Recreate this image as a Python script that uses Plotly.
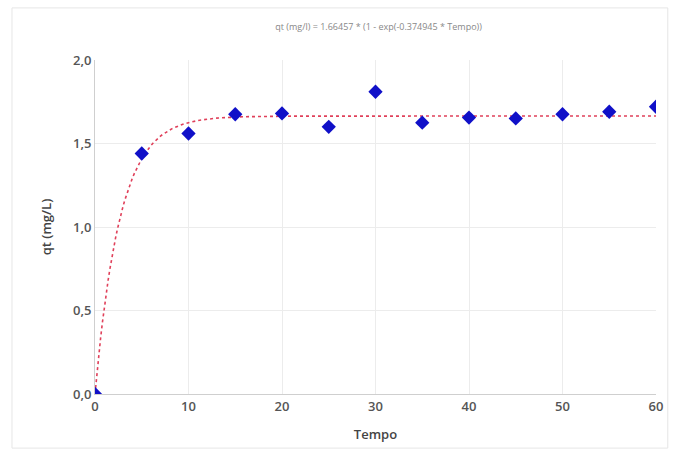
import numpy as np
import plotly.graph_objects as go

tempo = [0, 5, 10, 15, 20, 25, 30, 35, 40, 45, 50, 55, 60]
qt = [0.0, 1.44, 1.56, 1.675, 1.68, 1.60, 1.81, 1.625, 1.655, 1.65, 1.675, 1.69, 1.72]
qe_fit = 1.66457
k_fit = 0.374945
x_ticks = [0, 10, 20, 30, 40, 50, 60]
y_ticks = [0.0, 0.5, 1.0, 1.5, 2.0]
y_tick_text = ["0,0", "0,5", "1,0", "1,5", "2,0"]
title_text = "qt (mg/l) = 1.66457 * (1 - exp(-0.374945 * Tempo))"

t_fit = np.linspace(0, 60, 301)
q_fit = qe_fit * (1 - np.exp(-k_fit * t_fit))

fig = go.Figure()
fig.add_trace(go.Scatter(x=t_fit, y=q_fit, mode="lines",
                         line=dict(color="#e0405a", width=1.6, dash="dot"),
                         hoverinfo="skip", showlegend=False))
fig.add_trace(go.Scatter(x=tempo, y=qt, mode="markers",
                         marker=dict(symbol="diamond", size=11, color="#1010c8"),
                         showlegend=False))

fig.update_layout(
    width=676, height=454,
    margin=dict(l=95, r=20, t=60, b=60),
    paper_bgcolor="white", plot_bgcolor="white",
    font=dict(family="Open Sans", size=13, color="#444"),
    title=dict(text=title_text, x=0.56, xanchor="center", y=0.94, yanchor="middle",
               font=dict(size=9, color="#888")),
    shapes=[dict(type="rect", xref="paper", yref="paper", x0=-0.148, x1=1.021, y0=-0.162, y1=1.156,
                 line=dict(color="#e6e6e6", width=1))],
)
fig.update_xaxes(range=[0, 60], tickvals=x_ticks, showgrid=True, gridcolor="#ececec",
                 showline=True, linecolor="#cfcfcf", zeroline=False, ticks="",
                 title=dict(text="Tempo", font=dict(size=13, color="#444", weight=600), standoff=16),
                 tickfont=dict(size=13, color="#555", weight=600))
fig.update_yaxes(range=[0, 2.0], tickvals=y_ticks, ticktext=y_tick_text, showgrid=True,
                 gridcolor="#ececec", showline=True, linecolor="#cfcfcf", zeroline=False, ticks="",
                 title=dict(text="qt (mg/L)", font=dict(size=13, color="#444", weight=600), standoff=18),
                 tickfont=dict(size=13, color="#555", weight=600))

fig.write_html("out.html")
